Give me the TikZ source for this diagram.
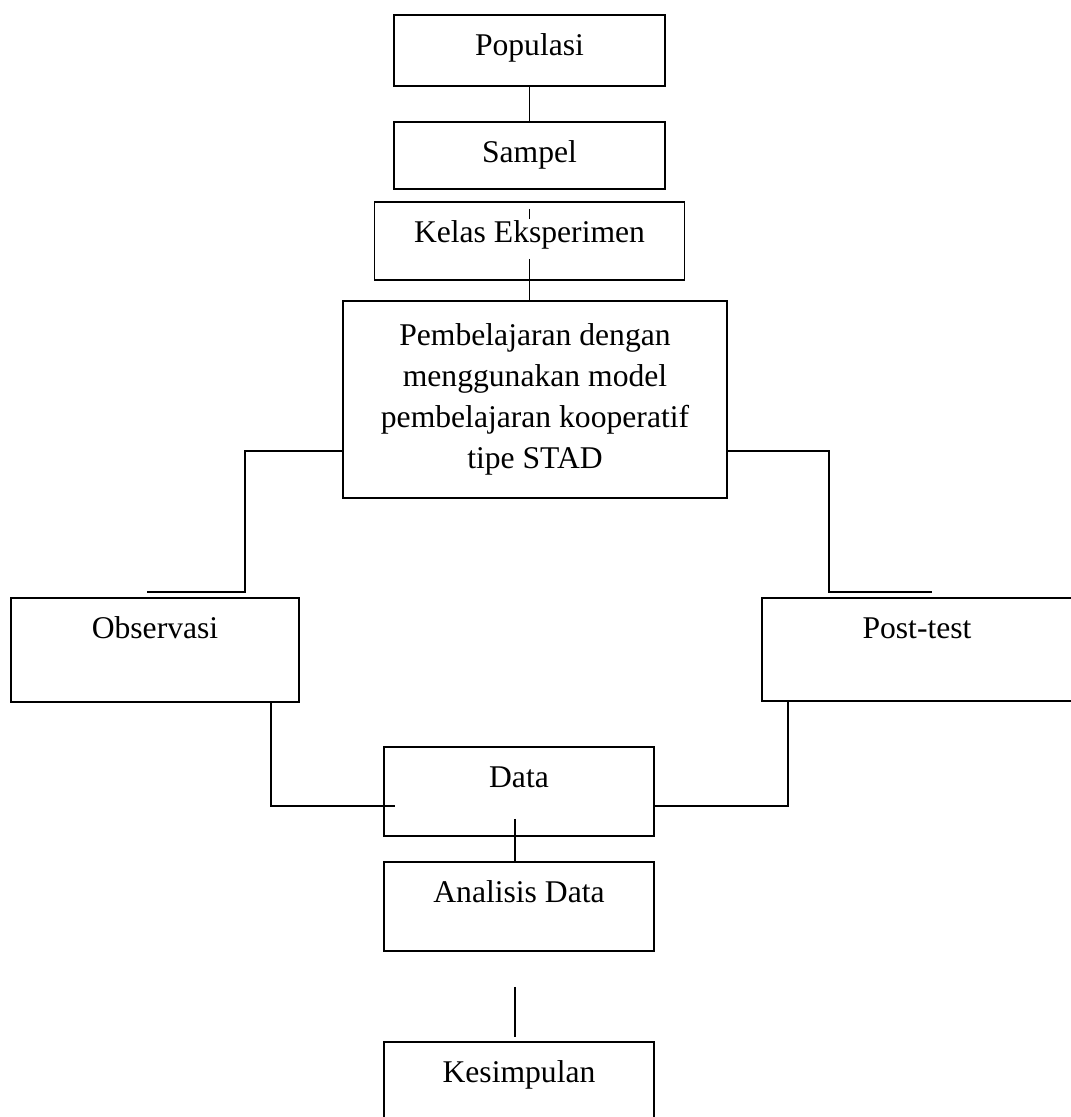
\documentclass[tikz,border=0pt]{standalone}
\usepackage{fontspec}
\setmainfont{Liberation Serif}
\usetikzlibrary{positioning, calc}

\begin{document}
\begin{tikzpicture}[x=0.02cm, y=-0.02cm, line width=1.1pt,
        font=\fontsize{18}{23.3}\selectfont,
        box/.style={draw, anchor=north, inner sep=0pt, align=center},
        onebox/.style={box, text height=0.82cm}]
        \useasboundingbox (0,0) rectangle (1071,1117);

        \node[onebox, minimum width=5.42cm, text depth=0.6cm] (pop) at (529.5,14) {Populasi};
        \node[onebox, minimum width=5.42cm, text depth=0.52cm] (sam) [below=0.68cm of pop] {Sampel};
        \node[onebox, minimum width=6.2cm, text depth=0.74cm] (kel) [below=0.22cm of sam] {Kelas Eksperimen};
        \node[box, minimum width=7.68cm, minimum height=3.94cm] (pem) at (535,300) {Pembelajaran dengan\\ menggunakan model\\ pembelajaran kooperatif\\ tipe STAD};
        \node[onebox, minimum width=5.76cm, text depth=1.26cm] (obs) at (155,597) {Observasi};
        \node[onebox, minimum width=6.2cm, text depth=1.24cm] (pst) at (917,597) {Post-test};
        \node[onebox, minimum width=5.4cm, text depth=0.96cm] (dat) at (519,746) {Data};
        \node[onebox, minimum width=5.4cm, text depth=0.96cm] (ana) [below=0.48cm of dat] {Analisis Data};
        \node[onebox, minimum width=5.4cm, text depth=0.96cm] (kes) [below=1.78cm of ana] {Kesimpulan};

        \draw (pop) -- (sam);
        \draw ([yshift=-0.38cm]sam.south) -- ([yshift=-0.36cm]kel.north);
        \draw ([yshift=0.44cm]kel.south) -- (kel.south |- pem.north);
        \draw ([yshift=-1.03cm]pem.west) -| ($(obs.north)+(1.8cm,0.1cm)$) -- ($(obs.north)+(-0.16cm,0.1cm)$);
        \draw ([yshift=-1.03cm]pem.east) -| ($(pst.north)+(-1.76cm,0.1cm)$) -- ($(pst.north)+(0.3cm,0.1cm)$);
        \draw ([xshift=2.32cm]obs.south) |- ([shift={(0.24cm,-0.29cm)}]dat.west);
        \draw ([xshift=-2.58cm]pst.south) |- ([yshift=-0.29cm]dat.east);
        \draw ([shift={(-0.08cm,0.36cm)}]dat.south) -- ([xshift=-0.08cm]ana.north);
        \draw ([shift={(-0.08cm,-0.7cm)}]ana.south) -- ([shift={(-0.08cm,0.08cm)}]kes.north);
\end{tikzpicture}
\end{document}
